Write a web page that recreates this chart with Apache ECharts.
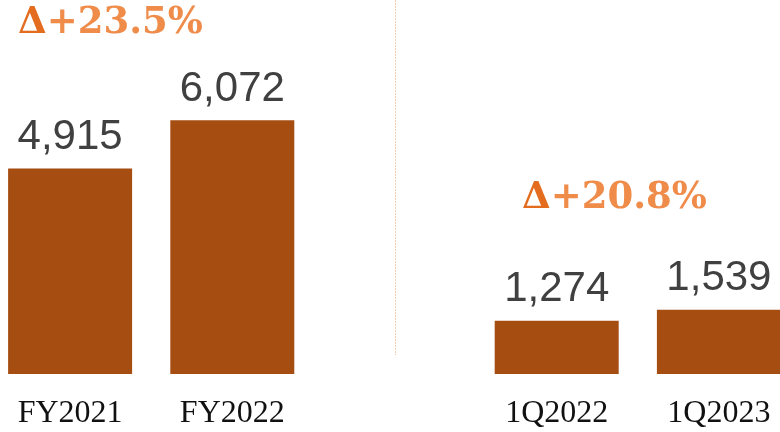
<!DOCTYPE html>
<html>
<head>
<meta charset="utf-8">
<script src="https://cdn.jsdelivr.net/npm/echarts@6/dist/echarts.min.js"></script>
<style>
  html, body { margin: 0; padding: 0; background: #fff; }
  #chart { width: 780px; height: 432px; }
</style>
</head>
<body>
<div id="chart"></div>
<script>
// periods, with an empty slot between the yearly and quarterly groups
const periods = ['FY2021', 'FY2022', '', '1Q2022', '1Q2023']
const revenue = [4915, 6072, null, 1274, 1539]
const deltas = ['+23.5%', '+20.8%']

const myChart = echarts.init(document.getElementById('chart'))
const deltaText = (txt) => '{d|Δ}{v|' + txt + '}'
const deltaRich = {
  d: { fontFamily: 'DejaVu Serif', fontWeight: 'bold', fontSize: 37, fill: '#e36c1f' },
  v: { fontFamily: 'DejaVu Serif', fontWeight: 'bold', fontSize: 37, fill: '#ef8c4a' }
}
let option = {
  animation: false,
  grid: { left: -11, right: -20, top: 0, bottom: 58, outerBoundsMode: 'none', containLabel: false },
  xAxis: {
    type: 'category',
    data: periods,
    axisLine: { show: false },
    axisTick: { show: false },
    axisLabel: {
      margin: 24,
      fontFamily: 'Liberation Serif',
      fontSize: 32,
      color: '#111'
    }
  },
  yAxis: {
    type: 'value',
    min: 0,
    max: 8950,
    show: false,
    splitLine: { show: false }
  },
  series: [
    {
      type: 'bar',
      data: revenue,
      barWidth: 124,
      itemStyle: { color: '#a64d12' },
      label: {
        show: true,
        position: 'top',
        distance: 10,
        fontFamily: 'Liberation Sans',
        fontSize: 42,
        color: '#404040',
        formatter: (p) => p.value.toLocaleString('en-US')
      }
    }
  ],
  graphic: [
    {
      type: 'line',
      shape: { x1: 395.5, y1: 0, x2: 395.5, y2: 355 },
      style: { stroke: '#f0cbb0', lineWidth: 1, lineDash: [2, 1] }
    },
    {
      type: 'text',
      left: 18,
      top: 5,
      style: { text: deltaText(deltas[0]), rich: deltaRich }
    },
    {
      type: 'text',
      left: 522,
      top: 180,
      style: { text: deltaText(deltas[1]), rich: deltaRich }
    }
  ]
}
myChart.setOption(option)
</script>
</body>
</html>
